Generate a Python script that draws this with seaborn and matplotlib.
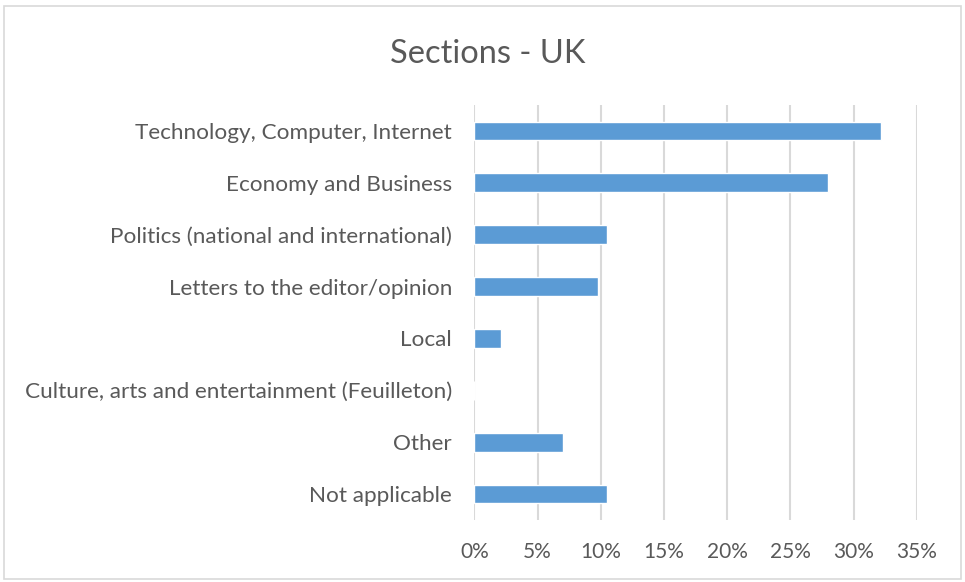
import matplotlib
matplotlib.use("Agg")
import matplotlib.pyplot as plt
import seaborn as sns
import pandas as pd
from matplotlib.patches import Rectangle
from matplotlib.ticker import FuncFormatter, MultipleLocator

categories = [
    "Technology, Computer, Internet",
    "Economy and Business",
    "Politics (national and international)",
    "Letters to the editor/opinion",
    "Local",
    "Culture, arts and entertainment (Feuilleton)",
    "Other",
    "Not applicable",
]
values = [32.2, 28.0, 10.5, 9.8, 2.1, 0.0, 7.0, 10.5]
title = "Sections - UK"

df = pd.DataFrame({"section": categories, "share": values})

sns.set_theme(style="white")
plt.rcParams["font.family"] = ["Lato", "DejaVu Sans"]

fig = plt.figure(figsize=(9.65, 5.82), dpi=100)
ax = fig.add_axes([0.4915, 0.1065, 0.4585, 0.7131])

sns.barplot(data=df, x="share", y="section", order=categories, orient="h",
            color="#5B9BD5", saturation=1, width=0.36, ax=ax)

ax.set_xlim(0, 35)
ax.xaxis.set_major_locator(MultipleLocator(5))
ax.xaxis.set_major_formatter(FuncFormatter(lambda v, p: f"{v:.0f}%"))
ax.grid(axis="x", color="#D9D9D9", linewidth=1.5)
ax.set_axisbelow(True)
for s in ax.spines.values():
    s.set_visible(False)
ax.set_xlabel("")
ax.set_ylabel("")
ax.tick_params(axis="both", length=0, labelcolor="#595959")
ax.tick_params(axis="y", pad=16, labelsize=16.2)
ax.tick_params(axis="x", pad=16, labelsize=15)

fig.text(0.505, 0.907, title, ha="center", va="center", fontsize=23.5, color="#595959")

fig.patches.append(Rectangle((0.004, 0.006), 0.992, 0.984, transform=fig.transFigure,
                             fill=False, edgecolor="#D9D9D9", linewidth=1.2))

fig.savefig("out.png", dpi=100)
